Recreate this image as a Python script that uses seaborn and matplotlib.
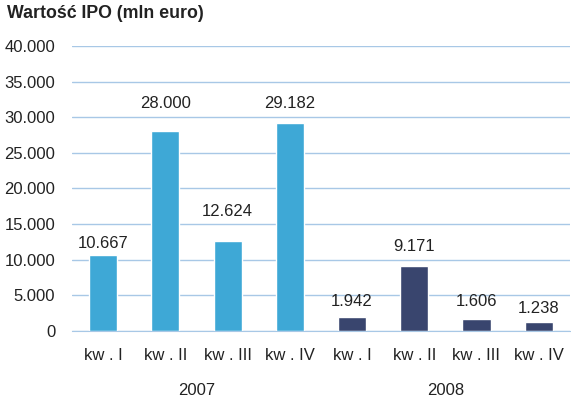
import pandas as pd
import matplotlib.pyplot as plt
import seaborn as sns
from matplotlib.ticker import FuncFormatter
from matplotlib.transforms import blended_transform_factory

# data
quarters = ["kw . I", "kw . II", "kw . III", "kw . IV"]
years = ["2007", "2008"]
values_2007 = [10667, 28000, 12624, 29182]
values_2008 = [1942, 9171, 1606, 1238]

rows = []
for y, vals in zip(years, [values_2007, values_2008]):
    for q, v in zip(quarters, vals):
        rows.append({"key": f"{y} {q}", "quarter": q, "year": y, "value": v})
df = pd.DataFrame(rows)

sns.set_style("white")
plt.rcParams['font.family'] = ['Liberation Sans', 'DejaVu Sans']

fig = plt.figure(figsize=(5.71, 4.07), dpi=100)
ax = fig.add_axes([0.126, 0.187, 0.872, 0.700])

palette = {"2007": "#3ea8d6", "2008": "#39456e"}
sns.barplot(data=df, x="key", y="value", hue="year", palette=palette,
            dodge=False, width=0.45, legend=False, ax=ax, saturation=1)

ax.set_ylim(0, 40000)
ax.set_xlim(-0.5, 7.5)
ax.set_yticks(range(0, 40001, 5000))
ax.yaxis.set_major_formatter(FuncFormatter(lambda v, p: f"{int(v):,}".replace(",", ".")))
ax.grid(axis="y", color="#a8c8e6", linewidth=1)
ax.set_axisbelow(True)
for s in ["top", "right", "left"]:
    ax.spines[s].set_visible(False)
ax.spines["bottom"].set_color("#a8c8e6")
ax.tick_params(axis="both", length=0, labelsize=12, colors="#222222")
ax.tick_params(axis="y", pad=12)
ax.tick_params(axis="x", pad=12)
ax.set_xticks(range(len(df)))
ax.set_xticklabels(df["quarter"])
ax.set_xlabel("")
ax.set_ylabel("")

# value labels (label centre offset above the bar top, in points)
label_offsets = [8, 20, 21, 14, 11, 14, 13, 10]
for i, (v, off) in enumerate(zip(df["value"], label_offsets)):
    ax.annotate(f"{v:,}".replace(",", "."), (i, v), xytext=(0, off),
                textcoords="offset points", ha="center", va="center",
                fontsize=12, color="#222222")

# year labels
trans = blended_transform_factory(ax.transData, ax.transAxes)
for j, y in enumerate(years):
    ax.text(j * 4 + 1.5, -0.21, y, transform=trans, ha="center", va="center",
            fontsize=12, color="#222222")

fig.text(0.012, 0.966, "Wartość IPO (mln euro)", fontsize=12.8, fontweight="bold",
         ha="left", va="center", color="#222222")

fig.savefig("out.png", dpi=100)
